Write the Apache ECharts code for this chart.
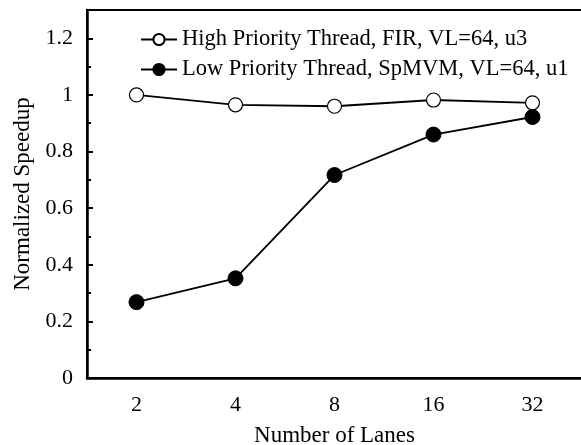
<!DOCTYPE html>
<html>
<head>
<meta charset="utf-8">
<script src="https://cdn.jsdelivr.net/npm/echarts@6/dist/echarts.min.js"></script>
<style>
  html, body { margin: 0; padding: 0; background: #fff; }
  #chart { width: 581px; height: 445px; }
</style>
</head>
<body>
<div id="chart"></div>
<script>
// lanes on the x axis
var lanes = ["2", "4", "8", "16", "32"];
// normalized speedup per series
var highPriority = [1.0, 0.965, 0.96, 0.982, 0.972];
var lowPriority = [0.268, 0.352, 0.717, 0.86, 0.922];
var highName = "High Priority Thread, FIR, VL=64, u3";
var lowName = "Low Priority Thread, SpMVM, VL=64, u1";

var font = "'Liberation Serif', 'Times New Roman', serif";

var chart = echarts.init(document.getElementById("chart"));

var option = {
  backgroundColor: "#fff",
  animation: false,
  textStyle: { fontFamily: font, color: "#000" },
  grid: {
    left: 87,
    top: 10,
    right: -1,
    bottom: 67,
    outerBoundsMode: "none",
    containLabel: false,
    show: true,
    borderColor: "#000",
    borderWidth: 2
  },
  legend: {
    orient: "vertical",
    left: 135,
    top: 23,
    itemGap: 7,
    itemWidth: 36,
    itemHeight: 14,
    textStyle: { fontFamily: font, fontSize: 22.5, color: "#000" },
    data: [highName, lowName]
  },
  xAxis: [
    {
      type: "category",
      data: lanes,
      boundaryGap: true,
      name: "Number of Lanes",
      nameLocation: "middle",
      nameGap: 46,
      nameTextStyle: { fontFamily: font, fontSize: 23, color: "#000" },
      axisLine: { lineStyle: { color: "#000", width: 2.5 } },
      axisTick: { inside: true, alignWithLabel: true, length: 7, lineStyle: { color: "#000", width: 2 } },
      axisLabel: { fontFamily: font, fontSize: 22, color: "#000", margin: 16 },
      splitLine: { show: false }
    },
    {
      // minor ticks between the lanes
      type: "category",
      data: lanes,
      position: "bottom",
      boundaryGap: true,
      axisLine: { show: false },
      axisTick: { inside: true, length: 4, lineStyle: { color: "#000", width: 2 } },
      axisLabel: { show: false },
      splitLine: { show: false }
    }
  ],
  yAxis: [
    {
      type: "value",
      min: 0,
      max: 1.3,
      interval: 0.2,
      name: "Normalized Speedup",
      nameLocation: "middle",
      nameGap: 50,
      nameTextStyle: { fontFamily: font, fontSize: 23, color: "#000" },
      axisLine: { show: true, lineStyle: { color: "#000", width: 2.5 } },
      axisTick: { show: true, inside: true, length: 6, lineStyle: { color: "#000", width: 2 } },
      axisLabel: {
        fontFamily: font, fontSize: 22, color: "#000", margin: 14,
        showMaxLabel: false,
        formatter: function (v) { return Math.round(v * 10) / 10 + ""; }
      },
      splitLine: { show: false }
    },
    {
      // minor ticks every 0.1
      type: "value",
      min: 0,
      max: 1.3,
      interval: 0.1,
      position: "left",
      axisLine: { show: false },
      axisTick: { show: true, inside: true, length: 4, lineStyle: { color: "#000", width: 2 } },
      axisLabel: { show: false },
      splitLine: { show: false }
    }
  ],
  series: [
    {
      name: highName,
      type: "line",
      data: highPriority,
      symbol: "circle",
      symbolSize: 14,
      color: "#000",
      lineStyle: { color: "#000", width: 1.8 },
      itemStyle: { color: "#fff", borderColor: "#000", borderWidth: 1.2 }
    },
    {
      name: lowName,
      type: "line",
      data: lowPriority,
      symbol: "circle",
      symbolSize: 15,
      color: "#000",
      lineStyle: { color: "#000", width: 1.8 },
      itemStyle: { color: "#000", borderColor: "#000", borderWidth: 1 }
    }
  ]
};

chart.setOption(option);
</script>
</body>
</html>
